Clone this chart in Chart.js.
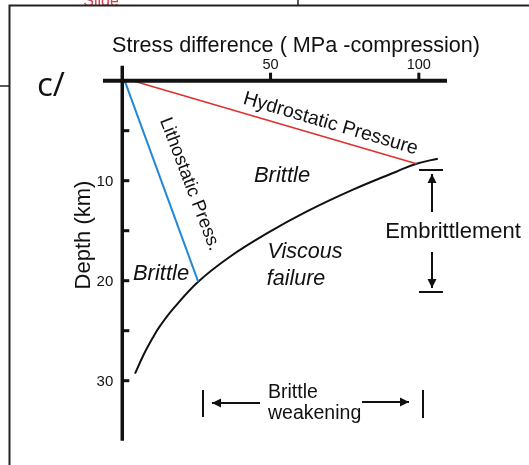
<!DOCTYPE html>
<html>
<head>
<meta charset="utf-8">
<script src="https://cdn.jsdelivr.net/npm/chart.js@4/dist/chart.umd.min.js"></script>
<style>
html,body{margin:0;padding:0;background:#fff;}
#wrap{position:relative;width:529px;height:465px;}
canvas{display:block;}
</style>
</head>
<body>
<div id="wrap"><canvas id="c" width="529" height="465"></canvas></div>
<script>
// ---- data ----
const stressTicks = [50, 100];                 // MPa, labelled ticks on the top axis
const depthTicks = [5, 10, 15, 20, 25, 30];     // km, tick marks on the depth axis
const depthLabels = [10, 20, 30];               // km, labelled depth ticks
const hydroStress = [3.5, 99.2];
const hydroDepth = [0, 8.3];
const lithoStress = [0.8, 25.6];
const lithoDepth = [0, 20.1];
const failStress = [4.3, 7.2, 10.5, 12.8, 17.2, 25.6, 36.3, 48.6, 62.1, 77.8, 92.4, 99.2, 106.4];
const failDepth = [29.3, 27.4, 25.6, 24.5, 22.8, 20.1, 17.6, 15.3, 13.1, 10.9, 9.1, 8.3, 7.8];

const pts = (xs, ys) => xs.map((x, i) => ({x: x, y: ys[i]}));

const FONT = '"Liberation Sans", Arial, Helvetica, sans-serif';

function arrow(ctx, x1, y1, x2, y2) {
  ctx.beginPath(); ctx.moveTo(x1, y1); ctx.lineTo(x2, y2); ctx.stroke();
  const a = Math.atan2(y2 - y1, x2 - x1), L = 9, W = 4.5;
  ctx.beginPath();
  ctx.moveTo(x2, y2);
  ctx.lineTo(x2 - L * Math.cos(a) + W * Math.sin(a), y2 - L * Math.sin(a) - W * Math.cos(a));
  ctx.lineTo(x2 - L * Math.cos(a) - W * Math.sin(a), y2 - L * Math.sin(a) + W * Math.cos(a));
  ctx.closePath(); ctx.fill();
}

function txt(ctx, s, x, y, size, opts) {
  opts = opts || {};
  ctx.save();
  ctx.translate(x, y);
  if (opts.rot) ctx.rotate(opts.rot * Math.PI / 180);
  ctx.font = (opts.italic ? 'italic ' : '') + size + 'px ' + (opts.family || FONT);
  ctx.fillStyle = opts.color || '#111';
  ctx.textAlign = opts.align || 'center';
  ctx.textBaseline = opts.base || 'alphabetic';
  ctx.fillText(s, 0, 0);
  ctx.restore();
}

const decor = {
  id: 'decor',
  beforeDraw(chart) {
    const ctx = chart.ctx;
    ctx.save();
    ctx.fillStyle = '#fff';
    ctx.fillRect(0, 0, chart.width, chart.height);
    // partial panel frame of the scanned figure
    txt(ctx, 'Slide', 101, 6, 16, {color: '#d0404f'});
    ctx.strokeStyle = '#222'; ctx.lineWidth = 2;
    ctx.beginPath(); ctx.moveTo(9.5, 465); ctx.lineTo(9.5, 5.5); ctx.lineTo(529, 5.5); ctx.stroke();
    ctx.lineWidth = 1.5;
    ctx.beginPath(); ctx.moveTo(0, 86); ctx.lineTo(9, 86); ctx.stroke();
    ctx.beginPath(); ctx.moveTo(298, 0); ctx.lineTo(298, 5); ctx.stroke();
    ctx.restore();
  },
  afterDatasetsDraw(chart) {
    const ctx = chart.ctx;
    const xs = chart.scales.x, ys = chart.scales.y;
    const ax = xs.getPixelForValue(0), ay = ys.getPixelForValue(0);
    ctx.save();
    ctx.strokeStyle = '#111'; ctx.fillStyle = '#111'; ctx.lineCap = 'butt';
    // stress axis (top)
    ctx.lineWidth = 4;
    ctx.beginPath(); ctx.moveTo(xs.left, ay); ctx.lineTo(xs.right, ay); ctx.stroke();
    // depth axis
    ctx.lineWidth = 3.5;
    ctx.beginPath(); ctx.moveTo(ax, ys.top); ctx.lineTo(ax, ys.bottom); ctx.stroke();
    // stress ticks
    ctx.lineWidth = 3;
    stressTicks.forEach(v => {
      const px = xs.getPixelForValue(v);
      ctx.beginPath(); ctx.moveTo(px, ay - 1); ctx.lineTo(px, ay - 8); ctx.stroke();
      txt(ctx, String(v), px, ay - 12, 14.5);
    });
    // depth ticks
    depthTicks.forEach(v => {
      const py = ys.getPixelForValue(v);
      ctx.beginPath(); ctx.moveTo(ax, py); ctx.lineTo(ax + 7, py); ctx.stroke();
    });
    depthLabels.forEach(v => {
      const py = ys.getPixelForValue(v);
      txt(ctx, String(v), ax - 9, py + 5.5, 15, {align: 'right'});
    });
    // axis titles
    txt(ctx, 'Stress difference ( MPa -compression)', 296, 52, 21.6);
    txt(ctx, 'Depth (km)', 90, 235, 22, {rot: -90});
    txt(ctx, 'c/', 37, 96, 33, {align: 'left', family: '"Open Sans", sans-serif'});
    // curve labels
    txt(ctx, 'Hydrostatic Pressure', 329, 129, 19.5, {rot: 16.4});
    txt(ctx, 'Lithostatic Press.', 185, 186, 18.5, {rot: 69});
    txt(ctx, 'Brittle', 282, 182, 22, {italic: true});
    txt(ctx, 'Brittle', 161, 280, 22, {italic: true});
    txt(ctx, 'Viscous', 305, 258, 21.5, {italic: true});
    txt(ctx, 'failure', 296, 285, 21.5, {italic: true});
    txt(ctx, 'Embrittlement', 453, 238, 22);
    // embrittlement marker
    ctx.lineWidth = 2;
    ctx.beginPath(); ctx.moveTo(419, 170); ctx.lineTo(443, 170); ctx.stroke();
    ctx.beginPath(); ctx.moveTo(419, 292); ctx.lineTo(443, 292); ctx.stroke();
    arrow(ctx, 432, 212, 432, 174);
    arrow(ctx, 432, 252, 432, 288);
    // brittle weakening marker
    txt(ctx, 'Brittle', 268, 398, 19.5, {align: 'left'});
    txt(ctx, 'weakening', 268, 419, 19.5, {align: 'left'});
    ctx.beginPath(); ctx.moveTo(203, 390); ctx.lineTo(203, 417); ctx.stroke();
    ctx.beginPath(); ctx.moveTo(423, 390); ctx.lineTo(423, 418); ctx.stroke();
    arrow(ctx, 260, 403, 212, 403);
    arrow(ctx, 362, 402, 409, 402);
    ctx.restore();
  }
};

new Chart(document.getElementById('c'), {
  type: 'scatter',
  data: {
    datasets: [
      {label: 'Hydrostatic Pressure', data: pts(hydroStress, hydroDepth), showLine: true,
       borderColor: '#e0302c', borderWidth: 1.6, pointRadius: 0},
      {label: 'Lithostatic Press.', data: pts(lithoStress, lithoDepth), showLine: true,
       borderColor: '#2387d6', borderWidth: 2, pointRadius: 0},
      {label: 'Viscous failure', data: pts(failStress, failDepth), showLine: true,
       borderColor: '#111', borderWidth: 2, pointRadius: 0, tension: 0.4}
    ]
  },
  options: {
    responsive: false,
    animation: false,
    events: [],
    layout: {padding: {left: 103, right: 82, top: 65.7, bottom: 24.3}},
    plugins: {legend: {display: false}, tooltip: {enabled: false}, title: {display: false}},
    scales: {
      x: {type: 'linear', min: -6.5, max: 109.5, display: false},
      y: {type: 'linear', min: -1.5, max: 36, reverse: true, display: false}
    }
  },
  plugins: [decor]
});
</script>
</body>
</html>
